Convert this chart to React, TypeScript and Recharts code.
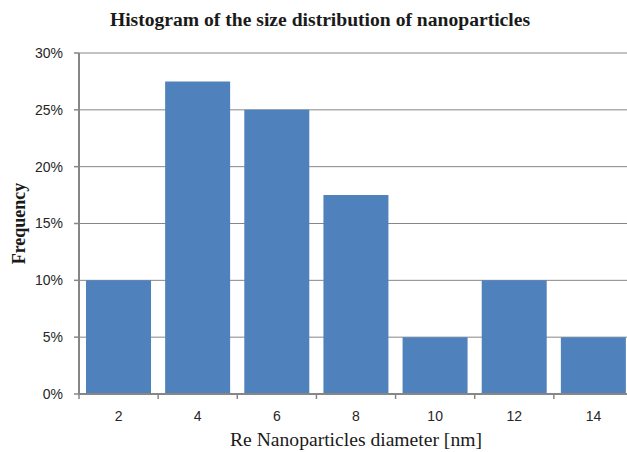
import React from "react";
import { BarChart, Bar, XAxis, YAxis, CartesianGrid } from "recharts";

const sizes = ["2", "4", "6", "8", "10", "12", "14"];
const frequencies = [0.1, 0.275, 0.25, 0.175, 0.05, 0.1, 0.05];
const yTicks = [0, 0.05, 0.1, 0.15, 0.2, 0.25, 0.3];

const data = sizes.map((s, i) => ({ size: s, freq: frequencies[i] }));

const GRAY = "#868686";

const XTick = (props: any) => {
  const { x, y, payload, index, visibleTicksCount, width } = props;
  const half =
    payload && typeof payload.offset === "number" && payload.offset > 0
      ? payload.offset
      : width / visibleTicksCount / 2;
  const isLast = index === visibleTicksCount - 1;
  return (
    <g>
      <line x1={x - half} x2={x - half} y1={y} y2={y + 5} stroke={GRAY} strokeWidth={1.5} />
      {isLast && (
        <line x1={x + half} x2={x + half} y1={y} y2={y + 5} stroke={GRAY} strokeWidth={1.5} />
      )}
      <text
        x={x}
        y={y + 27}
        textAnchor="middle"
        fontFamily="'Liberation Sans', Arial, sans-serif"
        fontSize={14}
        fill="#262626"
      >
        {payload.value}
      </text>
    </g>
  );
};

const YLabel = (props: any) => {
  const { viewBox } = props;
  const cx = viewBox.x + 19;
  const cy = viewBox.y + viewBox.height / 2;
  return (
    <text
      x={cx}
      y={cy}
      transform={`rotate(-90 ${cx} ${cy})`}
      textAnchor="middle"
      dominantBaseline="central"
      fontFamily="'Liberation Serif', 'Times New Roman', serif"
      fontWeight="bold"
      fontSize={18}
      fill="#1a1a1a"
    >
      Frequency
    </text>
  );
};

const XLabel = (props: any) => {
  const { viewBox } = props;
  const cx = viewBox.x + viewBox.width / 2;
  return (
    <text
      x={cx}
      y={viewBox.y + 52}
      textAnchor="middle"
      fontFamily="'Liberation Serif', 'Times New Roman', serif"
      fontSize={19.6}
      fill="#1a1a1a"
    >
      Re Nanoparticles diameter [nm]
    </text>
  );
};

export default function App() {
  return (
    <div
      style={{
        position: "fixed",
        left: 0,
        top: 0,
        width: 627,
        height: 452,
        overflow: "hidden",
        background: "#fff",
      }}
    >
      <div
        style={{
          position: "absolute",
          left: 0,
          top: 9,
          width: 640,
          textAlign: "center",
          fontFamily: "'Liberation Serif', 'Times New Roman', serif",
          fontWeight: "bold",
          fontSize: 19.6,
          color: "#1a1a1a",
          lineHeight: "22px",
        }}
      >
        Histogram of the size distribution of nanoparticles
      </div>
      <BarChart
        width={640}
        height={452}
        data={data}
        margin={{ top: 53, right: 7, left: 0, bottom: 28 }}
        barCategoryGap={7}
        style={{ position: "absolute", left: 0, top: 0 }}
      >
        <CartesianGrid vertical={false} stroke={GRAY} strokeWidth={1} />
        <XAxis
          dataKey="size"
          height={30}
          tickLine={false}
          tickSize={0}
          tickMargin={0}
          axisLine={{ stroke: GRAY, strokeWidth: 2 }}
          tick={<XTick />}
          interval={0}
          label={<XLabel />}
        />
        <YAxis
          width={79}
          domain={[0, 0.3]}
          ticks={yTicks}
          tickFormatter={(v: number) => `${Math.round(v * 100)}%`}
          tickSize={5}
          tickMargin={11}
          tickLine={{ stroke: GRAY, strokeWidth: 1.5 }}
          axisLine={{ stroke: GRAY, strokeWidth: 2 }}
          tick={{
            fontFamily: "'Liberation Sans', Arial, sans-serif",
            fontSize: 14,
            fill: "#262626",
          }}
          label={<YLabel />}
        />
        <Bar dataKey="freq" fill="#4F81BD" isAnimationActive={false} />
      </BarChart>
    </div>
  );
}
